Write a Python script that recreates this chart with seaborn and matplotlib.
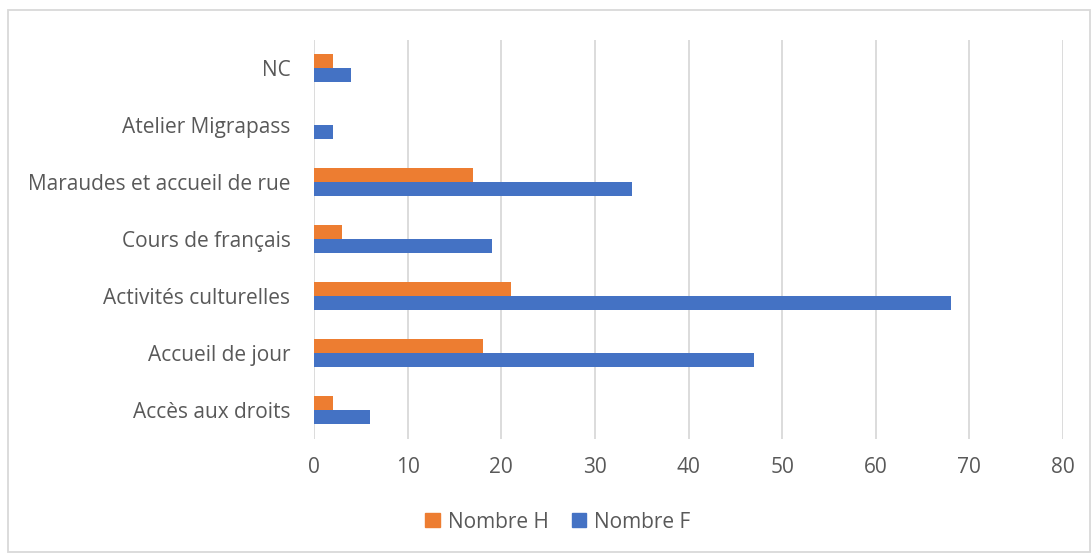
import matplotlib
matplotlib.use("Agg")
import matplotlib.pyplot as plt
import matplotlib.patches as mpatches
import seaborn as sns
import pandas as pd

categories = ["NC", "Atelier Migrapass", "Maraudes et accueil de rue", "Cours de français",
              "Activités culturelles", "Accueil de jour", "Accès aux droits"]
nombre_h = [2, 0, 17, 3, 21, 18, 2]
nombre_f = [4, 2, 34, 19, 68, 47, 6]
series = ["Nombre H", "Nombre F"]
colors = ["#ED7D31", "#4472C4"]
x_ticks = [0, 10, 20, 30, 40, 50, 60, 70, 80]

sns.set_theme(style="white")
plt.rcParams['font.family'] = ['Open Sans', 'DejaVu Sans']
text_color = "#595959"
grid_color = "#D9D9D9"
fs = 15

df = pd.DataFrame({
    "cat": categories * 2,
    "val": nombre_h + nombre_f,
    "serie": [series[0]] * len(categories) + [series[1]] * len(categories),
})

fig = plt.figure(figsize=(10.92, 5.54), dpi=100)
ax = fig.add_axes([314/1092, 1 - 438.5/554, (1063-314)/1092, 399/554])

sns.barplot(data=df, y="cat", x="val", hue="serie", order=categories, hue_order=series,
            palette=colors, orient="h", width=0.5, ax=ax, legend=False,
            saturation=1, edgecolor="none", linewidth=0)

ax.set_xlim(0, 80)
ax.set_xticks(x_ticks)
ax.set_ylim(len(categories) - 0.5, -0.5)
ax.set_xlabel("")
ax.set_ylabel("")
ax.grid(axis="x", color=grid_color, linewidth=1.3)
ax.set_axisbelow(True)
for s in ["top", "right", "bottom", "left"]:
    ax.spines[s].set_visible(False)
ax.tick_params(axis="both", length=0, labelsize=fs, colors=text_color)
ax.tick_params(axis="y", pad=17)
ax.tick_params(axis="x", pad=13)
for lab in ax.get_yticklabels() + ax.get_xticklabels():
    lab.set_color(text_color)

handles = [mpatches.Patch(color=c, label=s) for c, s in zip(colors, series)]
leg = fig.legend(handles=handles, loc="center", bbox_to_anchor=(0.511, 1 - 522/554), ncol=2,
                 frameon=False, fontsize=fs, handlelength=0.68, handleheight=0.68,
                 columnspacing=1.1, handletextpad=0.4)
for t in leg.get_texts():
    t.set_color(text_color)

border = mpatches.Rectangle((8/1092, 2/554), 1082/1092, 542/554, transform=fig.transFigure,
                            fill=False, edgecolor=grid_color, linewidth=1.3)
fig.patches.append(border)

fig.savefig("out.png", dpi=100, facecolor="white")
